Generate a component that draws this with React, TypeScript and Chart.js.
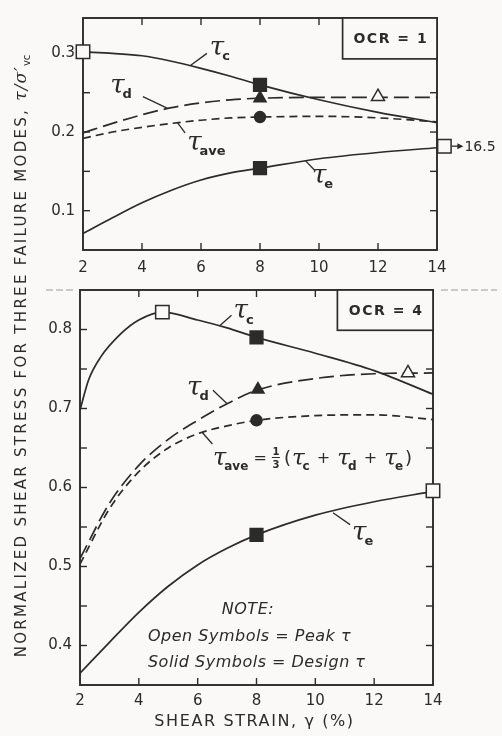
import React, { useEffect, useRef } from "react";
import { Chart, registerables } from "chart.js";

Chart.register(...registerables);

const INK = "#2b2b2b";
const PAPER = "#fbf9f8";

// ---- axis ticks ----
const strainTicks = [2, 4, 6, 8, 10, 12, 14];
const stressTicksOcr1 = [0.1, 0.15, 0.2, 0.25, 0.3];
const stressTicksOcr4 = [0.4, 0.45, 0.5, 0.55, 0.6, 0.65, 0.7, 0.75, 0.8];

// ---- OCR = 1 curves ----
const strainOcr1 = [2, 3, 4, 5, 6, 7, 8, 10, 12, 14];
const tauCOcr1 = [0.302, 0.3, 0.297, 0.29, 0.281, 0.271, 0.26, 0.241, 0.225, 0.212];
const tauDOcr1 = [0.199, 0.211, 0.222, 0.231, 0.237, 0.241, 0.243, 0.244, 0.244, 0.244];
const tauAveOcr1 = [0.192, 0.2, 0.206, 0.211, 0.215, 0.218, 0.219, 0.22, 0.218, 0.213];
const tauEOcr1 = [0.071, 0.091, 0.11, 0.126, 0.139, 0.148, 0.154, 0.166, 0.174, 0.18];

// OCR = 1 symbols (strain, stress)
const peakCOcr1 = [2, 0.302];
const designCOcr1 = [8, 0.26];
const designDOcr1 = [8, 0.243];
const peakDOcr1 = [12, 0.245];
const designAveOcr1 = [8, 0.219];
const designEOcr1 = [8, 0.154];
const peakEOcr1 = [14.25, 0.182];
const peakEStrainOcr1 = "16.5";

// ---- OCR = 4 curves ----
const strainCOcr4 = [2, 2.3, 2.7, 3.4, 4, 4.8, 6, 7, 8, 10, 12, 14];
const tauCOcr4 = [0.698, 0.737, 0.765, 0.795, 0.812, 0.822, 0.812, 0.802, 0.79, 0.77, 0.748, 0.718];
const strainOcr4 = [2, 3, 4, 5, 6, 7, 8, 10, 12, 14];
const tauDOcr4 = [0.51, 0.58, 0.628, 0.661, 0.685, 0.706, 0.723, 0.738, 0.744, 0.745];
const tauAveOcr4 = [0.503, 0.573, 0.62, 0.65, 0.668, 0.678, 0.685, 0.691, 0.692, 0.686];
const tauEOcr4 = [0.365, 0.404, 0.442, 0.475, 0.502, 0.523, 0.54, 0.565, 0.582, 0.595];

// OCR = 4 symbols
const peakCOcr4 = [4.8, 0.822];
const designCOcr4 = [8, 0.79];
const designDOcr4 = [8.05, 0.724];
const peakDOcr4 = [13.15, 0.745];
const designAveOcr4 = [8, 0.685];
const designEOcr4 = [8, 0.54];
const peakEOcr4 = [14, 0.596];

const xTitleText = "SHEAR STRAIN, γ (%)";

const LONG_DASH = [15, 6];
const SHORT_DASH = [8, 5];

const pts = (xs: number[], ys: number[]) => xs.map((x, i) => ({ x, y: ys[i] }));

function curve(xs: number[], ys: number[], dash: number[]) {
  return {
    type: "line",
    data: pts(xs, ys),
    borderColor: INK,
    borderWidth: 1.7,
    borderDash: dash,
    pointRadius: 0,
    pointHoverRadius: 0,
    cubicInterpolationMode: "monotone",
    fill: false,
    order: 1,
  };
}

function symbol(p: number[], style: string, open: boolean, radius: number) {
  return {
    type: "scatter",
    data: [{ x: p[0], y: p[1] }],
    pointStyle: style,
    pointRadius: radius,
    pointHoverRadius: radius,
    backgroundColor: open ? PAPER : INK,
    borderColor: INK,
    borderWidth: 1.5,
    clip: false,
    order: 0,
  };
}

const P = (chart: any, v: number, s: number): [number, number] => [
  chart.scales.x.getPixelForValue(v),
  chart.scales.y.getPixelForValue(s),
];

function seg(ctx: CanvasRenderingContext2D, a: number[], b: number[]) {
  ctx.beginPath();
  ctx.moveTo(a[0], a[1]);
  ctx.lineTo(b[0], b[1]);
  ctx.stroke();
}

function drawTau(ctx: CanvasRenderingContext2D, x: number, y: number, sub: string, size = 26) {
  ctx.textAlign = "left";
  ctx.textBaseline = "alphabetic";
  ctx.font = `italic ${size}px "DejaVu Serif"`;
  ctx.fillText("τ", x, y);
  const w = ctx.measureText("τ").width - 2;
  ctx.font = `bold ${Math.round(size * 0.5)}px "DejaVu Sans"`;
  ctx.fillText(sub, x + w, y + size * 0.2);
  return w + ctx.measureText(sub).width;
}

function ocrBox(chart: any, fromStrain: number, toStress: number, label: string) {
  const { ctx, chartArea } = chart;
  const x0 = chart.scales.x.getPixelForValue(fromStrain);
  const y1 = chart.scales.y.getPixelForValue(toStress);
  const t = chartArea.top;
  ctx.fillStyle = PAPER;
  ctx.fillRect(x0, t, chartArea.right - x0, y1 - t);
  ctx.strokeStyle = INK;
  ctx.lineWidth = 1.7;
  ctx.setLineDash([]);
  ctx.strokeRect(x0, t, chartArea.right - x0, y1 - t);
  ctx.fillStyle = INK;
  ctx.font = 'bold 14px "DejaVu Sans"';
  ctx.textAlign = "center";
  ctx.textBaseline = "middle";
  (ctx as any).letterSpacing = "1.5px";
  ctx.fillText(label, (x0 + chartArea.right) / 2 + 1, (t + y1) / 2 + 1);
  (ctx as any).letterSpacing = "0px";
}

function framePlugin(xTicks: number[], yTicks: number[], separator: boolean) {
  return {
    id: "frame",
    beforeDatasetsDraw(chart: any) {
      const { ctx, chartArea } = chart;
      const { left, right, top, bottom } = chartArea;
      ctx.save();
      ctx.strokeStyle = INK;
      ctx.lineWidth = 1.9;
      ctx.setLineDash([]);
      ctx.strokeRect(left, top, right - left, bottom - top);
      ctx.lineWidth = 1.4;
      const xs = chart.scales.x;
      const ys = chart.scales.y;
      xTicks.forEach((v) => {
        if (v <= xs.min || v >= xs.max) return;
        const x = xs.getPixelForValue(v);
        seg(ctx, [x, bottom], [x, bottom - 7]);
        seg(ctx, [x, top], [x, top + 7]);
      });
      yTicks.forEach((v) => {
        const y = ys.getPixelForValue(v);
        seg(ctx, [left, y], [left + 7, y]);
        seg(ctx, [right, y], [right - 7, y]);
      });
      if (separator) {
        ctx.strokeStyle = "#9a9a9a";
        ctx.lineWidth = 1;
        ctx.setLineDash([7, 3]);
        seg(ctx, [46, top], [left - 4, top]);
        seg(ctx, [right + 8, top], [497, top]);
      }
      ctx.restore();
    },
  };
}

const annotOcr1 = {
  id: "annotOcr1",
  afterDatasetsDraw(chart: any) {
    const ctx: CanvasRenderingContext2D = chart.ctx;
    ctx.save();
    ocrBox(chart, 10.8, 0.293, "OCR = 1");
    ctx.strokeStyle = INK;
    ctx.fillStyle = INK;
    ctx.lineWidth = 1.3;
    ctx.setLineDash([]);
    seg(ctx, P(chart, 5.63, 0.2843), P(chart, 6.2, 0.3));
    let [x, y] = P(chart, 6.3, 0.298);
    drawTau(ctx, x, y, "c");
    seg(ctx, P(chart, 4.03, 0.245), P(chart, 4.85, 0.2305));
    [x, y] = P(chart, 2.92, 0.25);
    drawTau(ctx, x, y, "d");
    seg(ctx, P(chart, 5.19, 0.2125), P(chart, 5.46, 0.199));
    [x, y] = P(chart, 5.53, 0.177);
    drawTau(ctx, x, y, "ave");
    seg(ctx, P(chart, 9.53, 0.164), P(chart, 9.86, 0.151));
    [x, y] = P(chart, 9.76, 0.135);
    drawTau(ctx, x, y, "e");
    // arrow to off-scale peak
    const [sx, sy] = P(chart, peakEOcr1[0], peakEOcr1[1]);
    seg(ctx, [sx + 7, sy], [sx + 14, sy]);
    ctx.beginPath();
    ctx.moveTo(sx + 19, sy);
    ctx.lineTo(sx + 13, sy - 3);
    ctx.lineTo(sx + 13, sy + 3);
    ctx.closePath();
    ctx.fill();
    ctx.font = '14px "DejaVu Sans"';
    ctx.textAlign = "left";
    ctx.textBaseline = "middle";
    ctx.fillText(peakEStrainOcr1, sx + 20, sy + 1);
    ctx.restore();
  },
};

const annotOcr4 = {
  id: "annotOcr4",
  afterDatasetsDraw(chart: any) {
    const ctx: CanvasRenderingContext2D = chart.ctx;
    ctx.save();
    ocrBox(chart, 10.75, 0.799, "OCR = 4");
    ctx.strokeStyle = INK;
    ctx.fillStyle = INK;
    ctx.lineWidth = 1.3;
    ctx.setLineDash([]);
    seg(ctx, P(chart, 6.76, 0.805), P(chart, 7.15, 0.818));
    let [x, y] = P(chart, 7.22, 0.814);
    drawTau(ctx, x, y, "c");
    seg(ctx, P(chart, 6.52, 0.723), P(chart, 7.0, 0.706));
    [x, y] = P(chart, 5.64, 0.717);
    drawTau(ctx, x, y, "d");
    seg(ctx, P(chart, 6.15, 0.67), P(chart, 6.5, 0.655));
    [x, y] = P(chart, 6.52, 0.6285);
    // formula
    let cx = x;
    cx += drawTau(ctx, cx, y, "ave", 24);
    ctx.font = '16px "DejaVu Sans"';
    ctx.fillText(" = ", cx, y - 2);
    cx += ctx.measureText(" = ").width;
    ctx.font = 'bold 10px "DejaVu Sans"';
    ctx.textAlign = "center";
    ctx.fillText("1", cx + 4, y - 10);
    ctx.lineWidth = 1;
    seg(ctx, [cx, y - 7.5], [cx + 8, y - 7.5]);
    ctx.fillText("3", cx + 4, y + 3);
    ctx.textAlign = "left";
    cx += 12;
    ctx.font = '18px "DejaVu Sans"';
    ctx.fillText("(", cx, y - 1);
    cx += ctx.measureText("(").width + 1;
    cx += drawTau(ctx, cx, y, "c", 23);
    ctx.font = '16px "DejaVu Sans"';
    ctx.fillText(" + ", cx + 2, y - 2);
    cx += ctx.measureText(" + ").width + 4;
    cx += drawTau(ctx, cx, y, "d", 23);
    ctx.font = '16px "DejaVu Sans"';
    ctx.fillText(" + ", cx + 2, y - 2);
    cx += ctx.measureText(" + ").width + 4;
    cx += drawTau(ctx, cx, y, "e", 23);
    ctx.font = '18px "DejaVu Sans"';
    ctx.fillText(")", cx + 2, y - 1);
    ctx.lineWidth = 1.3;
    seg(ctx, P(chart, 10.6, 0.568), P(chart, 11.18, 0.553));
    [x, y] = P(chart, 11.25, 0.534);
    drawTau(ctx, x, y, "e");
    // note
    ctx.font = 'italic 16px "DejaVu Sans"';
    (ctx as any).letterSpacing = "0.5px";
    ctx.textBaseline = "middle";
    ctx.textAlign = "center";
    let [nx, ny] = P(chart, 7.71, 0.445);
    ctx.fillText("NOTE:", nx, ny);
    ctx.textAlign = "left";
    [nx, ny] = P(chart, 4.31, 0.411);
    ctx.fillText("Open Symbols = Peak τ", nx, ny);
    [nx, ny] = P(chart, 4.31, 0.378);
    ctx.fillText("Solid Symbols = Design τ", nx, ny);
    // x-axis title
    ctx.font = '16px "DejaVu Sans"';
    (ctx as any).letterSpacing = "1.6px";
    ctx.textAlign = "center";
    const ca = chart.chartArea;
    ctx.fillText(xTitleText, (ca.left + ca.right) / 2 - 2, chart.height - 14);
    (ctx as any).letterSpacing = "0px";
    ctx.restore();
  },
};

const tickFont = { family: "DejaVu Sans", size: 15 };

function makeConfig(o: any) {
  return {
    type: "line",
    data: { datasets: o.datasets },
    options: {
      animation: false,
      responsive: false,
      events: [],
      layout: { padding: o.padding, autoPadding: false },
      plugins: { legend: { display: false }, tooltip: { enabled: false } },
      scales: {
        x: {
          type: "linear",
          min: 2,
          max: 14,
          afterBuildTicks: (s: any) => {
            s.ticks = strainTicks.map((v) => ({ value: v }));
          },
          afterFit: (s: any) => {
            s.height = o.xHeight;
            s.paddingLeft = 0;
            s.paddingRight = 0;
            s.paddingTop = 0;
            s.paddingBottom = 0;
          },
          grid: { display: false, drawTicks: false },
          border: { display: false },
          ticks: { font: tickFont, color: INK, padding: o.xPad, maxRotation: 0, autoSkip: false },
        },
        y: {
          type: "linear",
          min: o.yMin,
          max: o.yMax,
          afterBuildTicks: (s: any) => {
            s.ticks = o.yTicks.map((v: number) => ({ value: v }));
          },
          afterFit: (s: any) => {
            s.width = o.yWidth;
            s.paddingLeft = 0;
            s.paddingRight = 0;
            s.paddingTop = 0;
            s.paddingBottom = 0;
          },
          grid: { display: false, drawTicks: false },
          border: { display: false },
          ticks: {
            font: tickFont,
            color: INK,
            padding: 8,
            autoSkip: false,
            callback: (v: number) =>
              Math.abs(v * 10 - Math.round(v * 10)) < 1e-6 ? v.toFixed(1) : "",
          },
        },
      },
    },
    plugins: o.plugins,
  };
}

export default function App() {
  const topRef = useRef<HTMLCanvasElement>(null);
  const botRef = useRef<HTMLCanvasElement>(null);

  useEffect(() => {
    const top = new Chart(
      topRef.current as HTMLCanvasElement,
      makeConfig({
        datasets: [
          symbol(peakCOcr1, "rect", true, 9.5),
          symbol(designCOcr1, "rect", false, 9),
          symbol(designDOcr1, "triangle", false, 7),
          symbol(peakDOcr1, "triangle", true, 7.5),
          symbol(designAveOcr1, "circle", false, 5.5),
          symbol(designEOcr1, "rect", false, 9),
          symbol(peakEOcr1, "rect", true, 9.5),
          curve(strainOcr1, tauCOcr1, []),
          curve(strainOcr1, tauDOcr1, LONG_DASH),
          curve(strainOcr1, tauAveOcr1, SHORT_DASH),
          curve(strainOcr1, tauEOcr1, []),
        ],
        padding: { top: 18, right: 65, left: 0, bottom: 0 },
        xHeight: 35,
        xPad: 9,
        yWidth: 83,
        yMin: 0.05,
        yMax: 0.345,
        yTicks: stressTicksOcr1,
        plugins: [framePlugin(strainTicks, stressTicksOcr1, false), annotOcr1],
      }) as any
    );
    const bot = new Chart(
      botRef.current as HTMLCanvasElement,
      makeConfig({
        datasets: [
          symbol(peakCOcr4, "rect", true, 9.5),
          symbol(designCOcr4, "rect", false, 9),
          symbol(designDOcr4, "triangle", false, 7),
          symbol(peakDOcr4, "triangle", true, 7.5),
          symbol(designAveOcr4, "circle", false, 5.5),
          symbol(designEOcr4, "rect", false, 9),
          symbol(peakEOcr4, "rect", true, 9.5),
          curve(strainCOcr4, tauCOcr4, []),
          curve(strainOcr4, tauDOcr4, LONG_DASH),
          curve(strainOcr4, tauAveOcr4, SHORT_DASH),
          curve(strainOcr4, tauEOcr4, []),
        ],
        padding: { top: 5, right: 69, left: 0, bottom: 0 },
        xHeight: 51,
        xPad: 7,
        yWidth: 80,
        yMin: 0.35,
        yMax: 0.85,
        yTicks: stressTicksOcr4,
        plugins: [framePlugin(strainTicks, stressTicksOcr4, true), annotOcr4],
      }) as any
    );
    return () => {
      top.destroy();
      bot.destroy();
    };
  }, []);

  return (
    <div
      style={{
        position: "absolute",
        left: 0,
        top: 0,
        width: 502,
        height: 736,
        background: PAPER,
        overflow: "hidden",
      }}
    >
      <canvas ref={topRef} width={502} height={285} style={{ position: "absolute", left: 0, top: 0 }} />
      <canvas ref={botRef} width={502} height={451} style={{ position: "absolute", left: 0, top: 285 }} />
      <div
        style={{
          position: "absolute",
          left: 20 - 350,
          top: 356 - 10,
          width: 700,
          height: 20,
          lineHeight: "20px",
          transform: "rotate(-90deg)",
          transformOrigin: "50% 50%",
          textAlign: "center",
          whiteSpace: "nowrap",
          fontFamily: '"DejaVu Sans"',
          fontSize: 15,
          letterSpacing: "2.3px",
          color: INK,
        }}
      >
        NORMALIZED SHEAR STRESS FOR THREE FAILURE MODES,{" "}
        <span style={{ fontFamily: '"DejaVu Serif"', fontStyle: "italic", fontSize: 17, letterSpacing: "1px" }}>
          τ/σ′
        </span>
        <sub style={{ fontSize: 10, letterSpacing: 0 }}>vc</sub>
      </div>
    </div>
  );
}
